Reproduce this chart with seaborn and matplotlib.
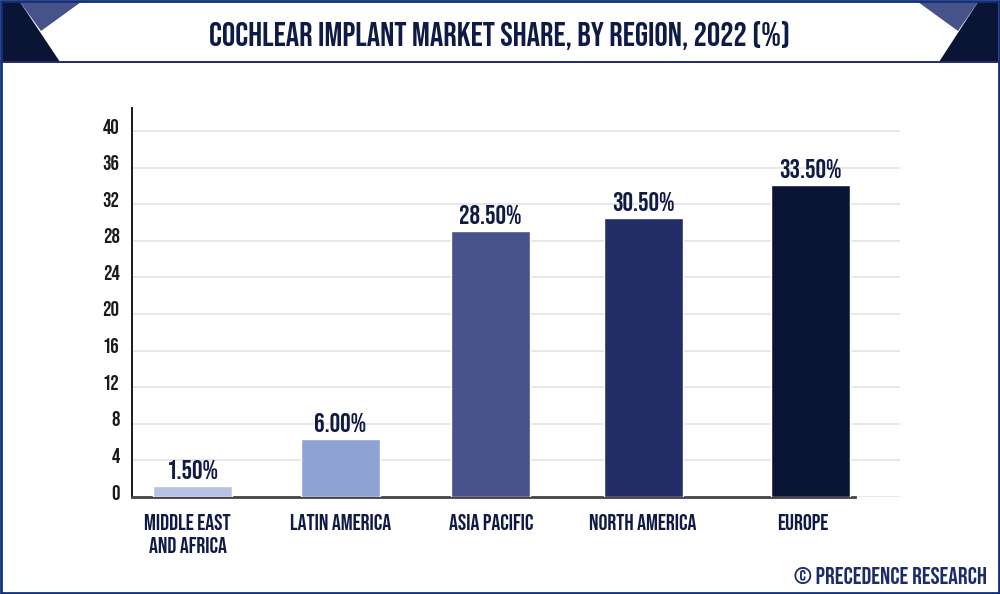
import matplotlib
matplotlib.use("Agg")
import matplotlib.pyplot as plt
from matplotlib import font_manager as fm
from matplotlib.patches import Polygon, Rectangle
from matplotlib.transforms import ScaledTranslation
import pandas as pd
import seaborn as sns

# Data
regions = ["Middle East and Africa", "Latin America", "Asia Pacific", "North America", "Europe"]
tick_labels = ["MIDDLE EAST\nAND AFRICA", "LATIN AMERICA", "ASIA PACIFIC", "NORTH AMERICA", "EUROPE"]
bar_heights = [1.25, 6.35, 29.1, 30.45, 34.05]
value_labels = ["1.50%", "6.00%", "28.50%", "30.50%", "33.50%"]
y_ticks = [0, 4, 8, 12, 16, 20, 24, 28, 32, 36, 40]

# Layout (the reference has unevenly spaced bars, so x is in pixels)
bar_x = [192.5, 340, 490.5, 643, 810.5]
label_x = [187.5, 341, 491, 643, 803]
bar_colors = ["#b7c2e2", "#8fa2d4", "#47528a", "#222f66", "#0a1536"]
navy = "#0f1b45"

# Condensed headline font if there is one, otherwise the narrowest of the listed ones
installed = {f.name for f in fm.fontManager.ttflist}
if "Bebas Neue" in installed:
    font, scale, weight = "Bebas Neue", 1.0, "normal"
else:
    font, scale, weight = "Roboto", 0.62, "bold"

sns.set_theme(style="white")
plt.rcParams["font.family"] = [font, "DejaVu Sans"]

fig = plt.figure(figsize=(10, 5.94), dpi=100)
W, H = 1000, 594
ax = fig.add_axes([132 / W, 1 - 497 / H, (900 - 132) / W, (497 - 108) / H])

df = pd.DataFrame({"x": bar_x, "share": bar_heights, "region": regions})
sns.barplot(data=df, x="x", y="share", hue="region", palette=bar_colors, dodge=False,
            native_scale=True, width=79 / 147.5, legend=False, saturation=1, ax=ax, zorder=3)

ax.set_xlim(132, 900)
ax.set_ylim(0, 389 / 9.15)
ax.set_xlabel("")
ax.set_ylabel("")

# Gridlines
ax.set_yticks(y_ticks)
ax.grid(axis="y", color="#e6e6e8", linewidth=1.3, zorder=0)
ax.set_axisbelow(True)

# Axes lines
sns.despine(ax=ax)
ax.spines["left"].set_color("#1a1a1a")
ax.spines["left"].set_linewidth(1.4)
ax.spines["bottom"].set_color("#444444")
ax.spines["bottom"].set_linewidth(2)
ax.spines["bottom"].set_bounds(132, 855)

# Tick labels
ax.tick_params(axis="both", length=0)
ax.tick_params(axis="y", pad=9)
ax.set_xticks(label_x)
ax.set_xticklabels(tick_labels, fontsize=16 * scale, fontweight=weight, color=navy, linespacing=1.45)
ax.tick_params(axis="x", pad=12)
for lab in ax.get_yticklabels():
    lab.set_fontsize(15 * scale)
    lab.set_fontweight(weight)
    lab.set_color("#1a1a1a")
    lab.set_transform(lab.get_transform() + ScaledTranslation(0, 5 / 100, fig.dpi_scale_trans))

# Value labels
for container, text in zip(ax.containers, value_labels):
    ax.bar_label(container, labels=[text], padding=5, fontsize=19 * scale, fontweight=weight, color=navy)

# Header and frame drawn in pixel coordinates
over = fig.add_axes([0, 0, 1, 1], zorder=5)
over.set_xlim(0, W)
over.set_ylim(H, 0)
over.axis("off")
over.patch.set_alpha(0)

dark = "#0a1536"
mid = "#47528a"
border = "#12307a"
over.add_patch(Polygon([(2, 2), (20, 2), (60, 62), (2, 62)], color=dark, lw=0))
over.add_patch(Polygon([(20, 2), (81, 2), (41, 31)], color=mid, lw=0))
over.add_patch(Polygon([(978, 2), (998, 2), (998, 62), (939, 62)], color=dark, lw=0))
over.add_patch(Polygon([(918, 2), (978, 2), (958, 31)], color=mid, lw=0))
over.plot([0, W], [62, 62], color="#252a6e", lw=1.4)
over.add_patch(Rectangle((1, 1), W - 2, H - 2, fill=False, ec=border, lw=2))

over.text(500, 35, "COCHLEAR IMPLANT MARKET SHARE, BY REGION, 2022 (%)", ha="center", va="center",
          fontsize=24 * scale, fontweight=weight, color=navy)
over.text(987, 576, "© PRECEDENCE RESEARCH", ha="right", va="center",
          fontsize=17.3 * scale, fontweight=weight, color="#1c2c6a")

fig.savefig("out.png", dpi=100)
